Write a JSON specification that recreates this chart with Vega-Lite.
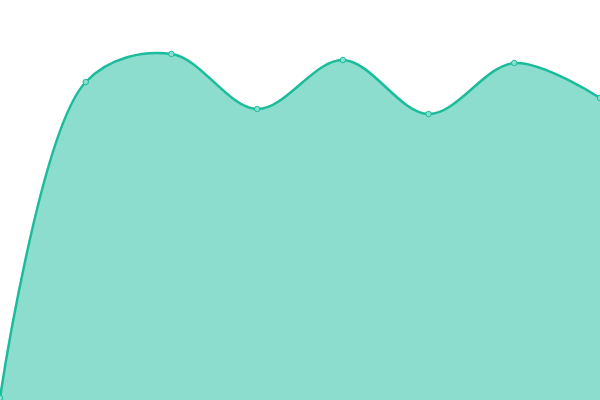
{
  "$schema": "https://vega.github.io/schema/vega-lite/v6.json",
  "width": 600,
  "height": 400,
  "padding": 0,
  "autosize": {"type": "none"},
  "config": {"view": {"stroke": null}},
  "data": {
    "values": [
      {"i": 0, "v": 2},
      {"i": 1, "v": 318},
      {"i": 2, "v": 346},
      {"i": 3, "v": 291},
      {"i": 4, "v": 340},
      {"i": 5, "v": 286},
      {"i": 6, "v": 337},
      {"i": 7, "v": 302}
    ]
  },
  "encoding": {
    "x": {"field": "i", "type": "quantitative", "scale": {"domain": [0, 7], "nice": false}, "axis": null},
    "y": {"field": "v", "type": "quantitative", "scale": {"domain": [0, 400], "nice": false}, "axis": null}
  },
  "layer": [
    {"mark": {"type": "area", "interpolate": "catmull-rom", "color": "#1abc9c", "opacity": 0.5}},
    {"mark": {"type": "line", "interpolate": "catmull-rom", "color": "#1abc9c", "strokeWidth": 2.5}},
    {"mark": {"type": "point", "filled": true, "fill": "#8ae0cf", "stroke": "#1abc9c", "strokeWidth": 1, "size": 30, "opacity": 1}}
  ]
}
